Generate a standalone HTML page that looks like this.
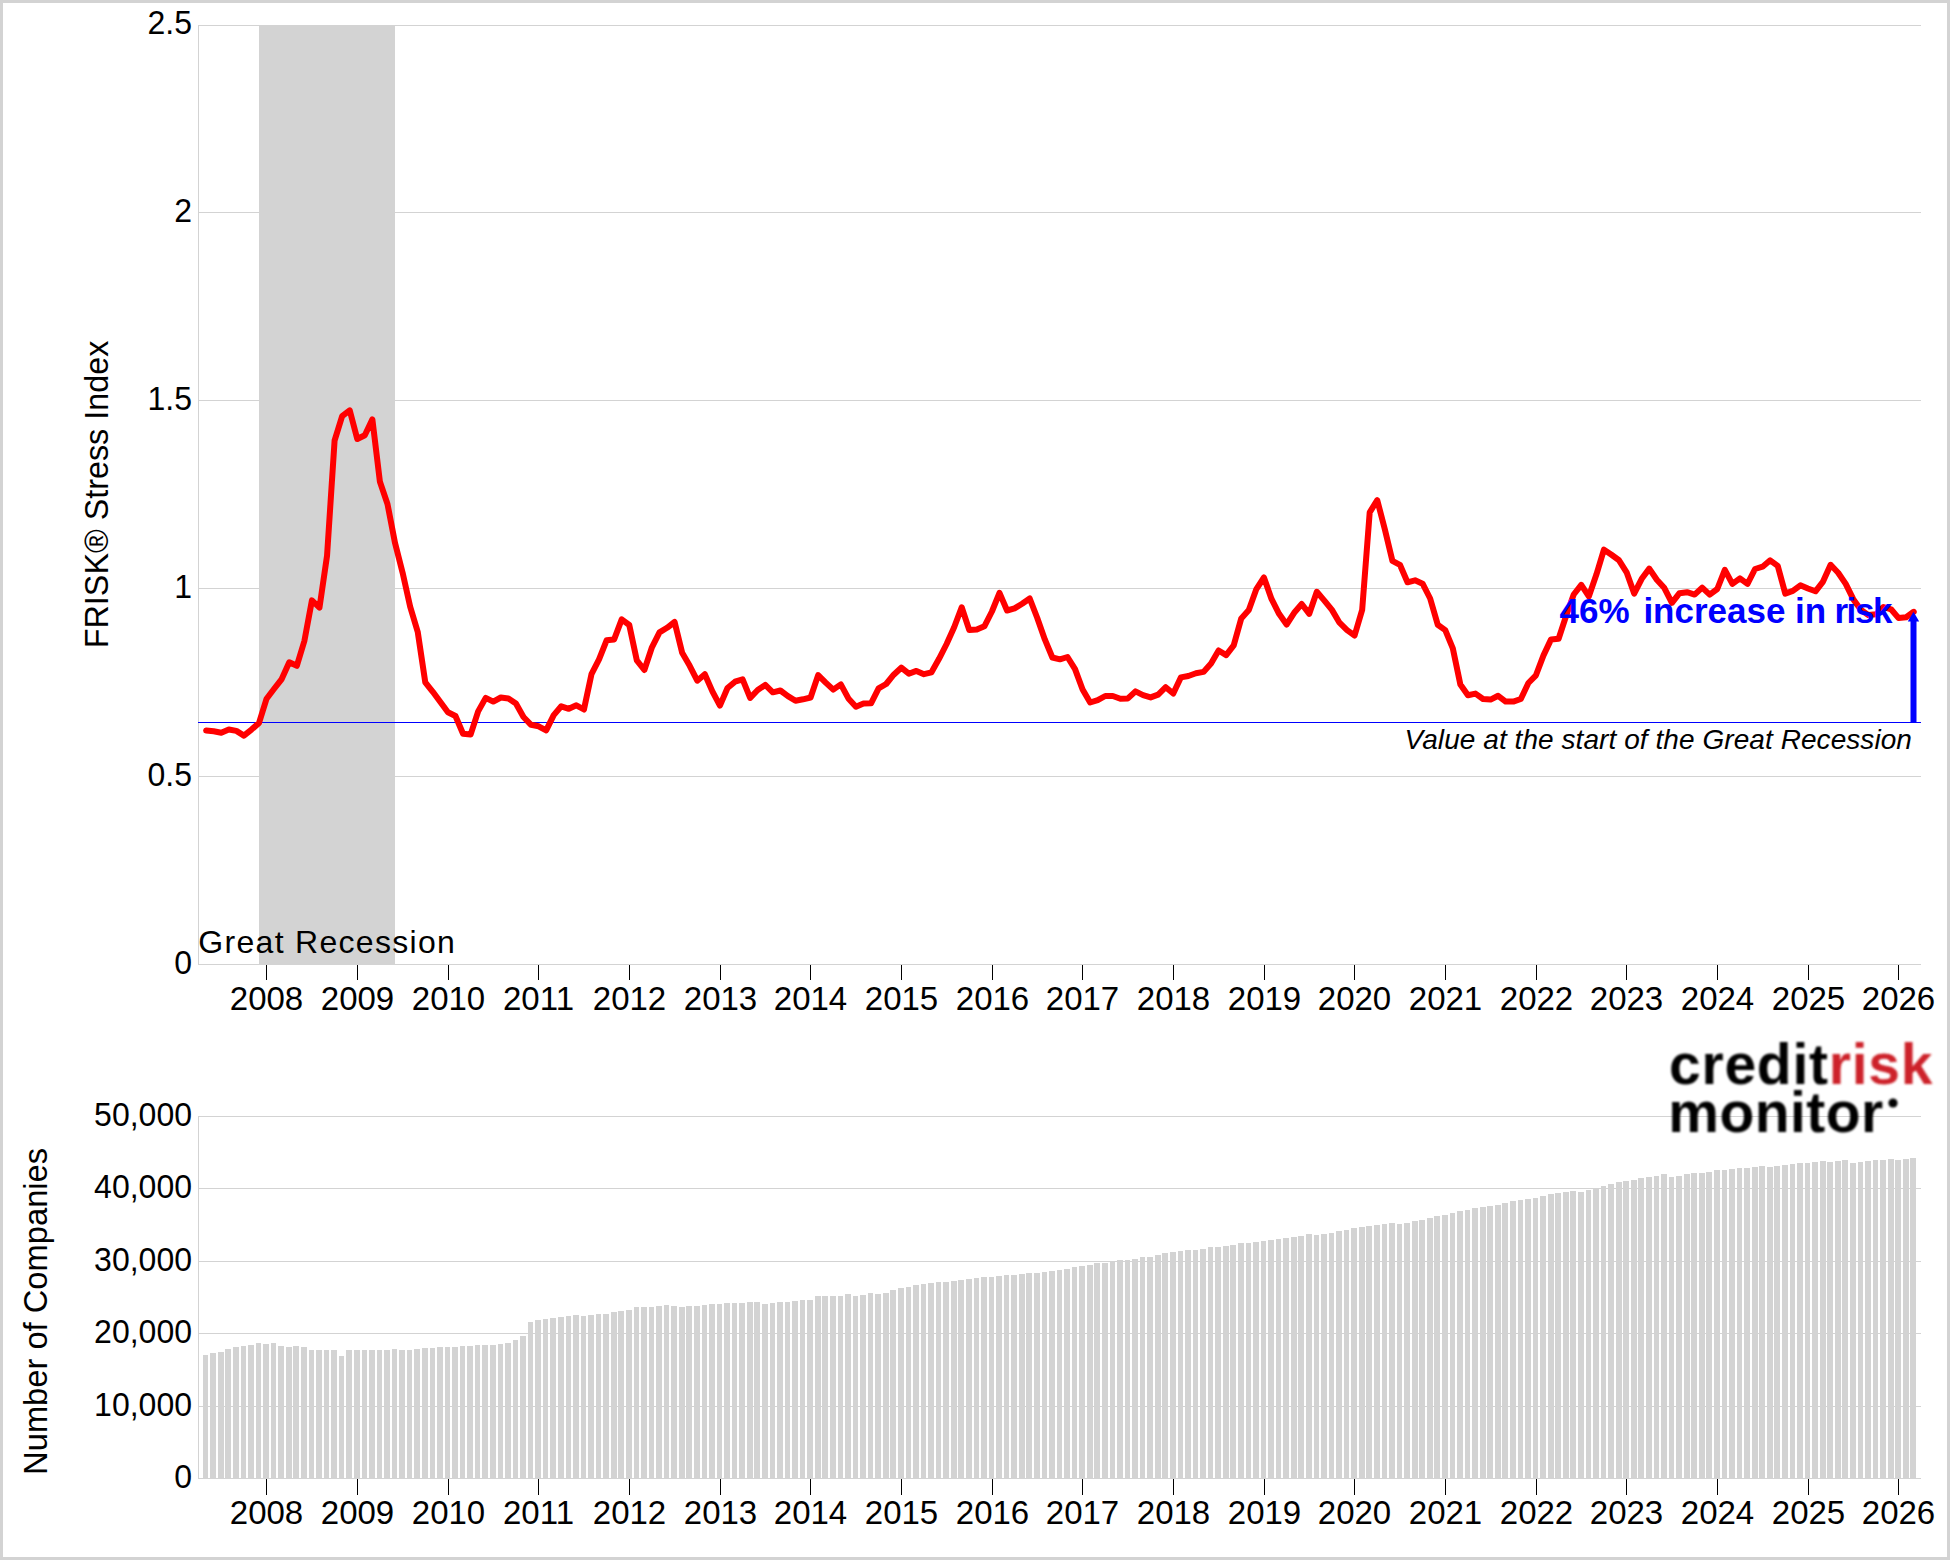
<!DOCTYPE html>
<html><head><meta charset="utf-8"><title>FRISK Stress Index</title><style>
html,body{margin:0;padding:0;background:#fff;}
body{width:1950px;height:1560px;overflow:hidden;}
svg{display:block;}
text{font-family:"Liberation Sans", Arial, sans-serif;fill:#000;}
</style></head><body>
<svg width="1950" height="1560" viewBox="0 0 1950 1560">
<rect x="0" y="0" width="1950" height="1560" fill="#d3d3d3"/>
<rect x="3" y="3" width="1944" height="1554" fill="#fff"/>
<g shape-rendering="crispEdges">
<rect x="198" y="212" width="1723" height="1" fill="#d3d3d3"/>
<rect x="198" y="400" width="1723" height="1" fill="#d3d3d3"/>
<rect x="198" y="588" width="1723" height="1" fill="#d3d3d3"/>
<rect x="198" y="776" width="1723" height="1" fill="#d3d3d3"/>
<rect x="198" y="25" width="1723" height="1" fill="#d3d3d3"/>
<rect x="198" y="25" width="1" height="940" fill="#d3d3d3"/>
<rect x="198" y="964" width="1723" height="1" fill="#d3d3d3"/>
<rect x="259" y="25" width="136" height="939" fill="#d3d3d3"/>
<rect x="198" y="722" width="1723" height="1" fill="#0000ff"/>
<rect x="266" y="965" width="1" height="15" fill="#000"/>
<rect x="266" y="1479" width="1" height="16" fill="#000"/>
<rect x="357" y="965" width="1" height="15" fill="#000"/>
<rect x="357" y="1479" width="1" height="16" fill="#000"/>
<rect x="448" y="965" width="1" height="15" fill="#000"/>
<rect x="448" y="1479" width="1" height="16" fill="#000"/>
<rect x="538" y="965" width="1" height="15" fill="#000"/>
<rect x="538" y="1479" width="1" height="16" fill="#000"/>
<rect x="629" y="965" width="1" height="15" fill="#000"/>
<rect x="629" y="1479" width="1" height="16" fill="#000"/>
<rect x="720" y="965" width="1" height="15" fill="#000"/>
<rect x="720" y="1479" width="1" height="16" fill="#000"/>
<rect x="810" y="965" width="1" height="15" fill="#000"/>
<rect x="810" y="1479" width="1" height="16" fill="#000"/>
<rect x="901" y="965" width="1" height="15" fill="#000"/>
<rect x="901" y="1479" width="1" height="16" fill="#000"/>
<rect x="992" y="965" width="1" height="15" fill="#000"/>
<rect x="992" y="1479" width="1" height="16" fill="#000"/>
<rect x="1082" y="965" width="1" height="15" fill="#000"/>
<rect x="1082" y="1479" width="1" height="16" fill="#000"/>
<rect x="1173" y="965" width="1" height="15" fill="#000"/>
<rect x="1173" y="1479" width="1" height="16" fill="#000"/>
<rect x="1264" y="965" width="1" height="15" fill="#000"/>
<rect x="1264" y="1479" width="1" height="16" fill="#000"/>
<rect x="1354" y="965" width="1" height="15" fill="#000"/>
<rect x="1354" y="1479" width="1" height="16" fill="#000"/>
<rect x="1445" y="965" width="1" height="15" fill="#000"/>
<rect x="1445" y="1479" width="1" height="16" fill="#000"/>
<rect x="1536" y="965" width="1" height="15" fill="#000"/>
<rect x="1536" y="1479" width="1" height="16" fill="#000"/>
<rect x="1626" y="965" width="1" height="15" fill="#000"/>
<rect x="1626" y="1479" width="1" height="16" fill="#000"/>
<rect x="1717" y="965" width="1" height="15" fill="#000"/>
<rect x="1717" y="1479" width="1" height="16" fill="#000"/>
<rect x="1808" y="965" width="1" height="15" fill="#000"/>
<rect x="1808" y="1479" width="1" height="16" fill="#000"/>
<rect x="1898" y="965" width="1" height="15" fill="#000"/>
<rect x="1898" y="1479" width="1" height="16" fill="#000"/>
</g>
<polyline points="206.15,730.4 213.71,731.3 221.26,732.7 228.82,729.5 236.37,730.9 243.93,735.6 251.48,729.6 259.04,722.9 266.59,698.7 274.15,688.8 281.71,679.1 289.26,662.3 296.82,665.8 304.37,641.0 311.93,600.4 319.48,607.6 327.04,555.8 334.60,440.5 342.15,416.2 349.71,410.3 357.26,439.0 364.82,435.2 372.37,419.4 379.93,481.8 387.48,504.0 395.04,543.1 402.60,572.7 410.15,606.6 417.71,631.8 425.26,682.3 432.82,691.8 440.37,702.1 447.93,712.3 455.48,716.0 463.04,733.7 470.60,734.6 478.15,711.4 485.71,697.9 493.26,701.6 500.82,697.5 508.37,698.4 515.93,703.5 523.49,717.0 531.04,724.8 538.60,726.3 546.15,730.4 553.71,715.1 561.26,706.3 568.82,708.8 576.37,705.3 583.93,709.5 591.49,674.2 599.04,659.4 606.60,640.3 614.15,639.4 621.71,619.4 629.26,625.0 636.82,660.3 644.37,670.0 651.93,647.3 659.49,632.4 667.04,627.8 674.60,622.0 682.15,652.8 689.71,665.8 697.26,680.7 704.82,674.2 712.38,691.4 719.93,705.6 727.49,688.0 735.04,681.7 742.60,679.3 750.15,697.9 757.71,690.0 765.26,684.9 772.82,692.3 780.38,690.5 787.93,696.1 795.49,700.7 803.04,699.3 810.60,697.5 818.15,675.1 825.71,682.6 833.26,689.6 840.82,684.4 848.38,698.4 855.93,706.7 863.49,703.5 871.04,703.3 878.60,688.4 886.15,684.0 893.71,674.7 901.27,667.7 908.82,673.7 916.38,670.9 923.93,674.2 931.49,672.3 939.04,658.8 946.60,644.0 954.15,627.3 961.71,607.3 969.27,630.1 976.82,629.6 984.38,626.3 991.93,611.5 999.49,592.9 1007.04,610.5 1014.60,608.4 1022.15,603.8 1029.71,598.5 1037.27,618.0 1044.82,639.4 1052.38,657.5 1059.93,659.3 1067.49,657.0 1075.04,669.1 1082.60,689.5 1090.16,702.5 1097.71,700.2 1105.27,696.0 1112.82,696.0 1120.38,698.8 1127.93,698.4 1135.49,691.4 1143.04,695.1 1150.60,697.4 1158.16,694.6 1165.71,687.2 1173.27,693.5 1180.82,677.4 1188.38,676.0 1195.93,673.3 1203.49,671.9 1211.04,663.5 1218.60,650.5 1226.16,655.1 1233.71,645.4 1241.27,618.4 1248.82,610.1 1256.38,589.1 1263.93,577.5 1271.49,598.9 1279.05,613.8 1286.60,624.5 1294.16,612.8 1301.71,604.0 1309.27,613.8 1316.82,591.8 1324.38,600.6 1331.93,609.9 1339.49,622.7 1347.05,630.1 1354.60,635.5 1362.16,609.9 1369.71,512.3 1377.27,500.2 1384.82,529.2 1392.38,560.8 1399.93,564.8 1407.49,582.3 1415.05,580.3 1422.60,583.7 1430.16,598.5 1437.71,624.7 1445.27,630.1 1452.82,648.3 1460.38,684.6 1467.94,695.3 1475.49,693.6 1483.05,699.0 1490.60,699.6 1498.16,695.8 1505.71,701.6 1513.27,701.6 1520.82,699.0 1528.38,683.0 1535.94,675.3 1543.49,655.4 1551.05,639.4 1558.60,638.7 1566.16,615.7 1573.71,594.5 1581.27,584.9 1588.82,596.4 1596.38,574.6 1603.94,549.6 1611.49,554.8 1619.05,560.3 1626.60,572.3 1634.16,593.6 1641.71,578.8 1649.27,568.6 1656.83,579.7 1664.38,588.1 1671.94,602.9 1679.49,593.2 1687.05,592.2 1694.60,594.6 1702.16,587.6 1709.71,594.6 1717.27,589.0 1724.83,569.9 1732.38,583.9 1739.94,578.3 1747.49,583.9 1755.05,569.0 1762.60,566.7 1770.16,560.3 1777.71,565.8 1785.27,593.6 1792.83,590.9 1800.38,585.3 1807.94,588.5 1815.49,591.3 1823.05,581.6 1830.60,564.8 1838.16,572.7 1845.72,583.9 1853.27,599.2 1860.83,609.8 1868.38,615.1 1875.94,614.3 1883.49,607.0 1891.05,609.3 1898.60,618.1 1906.16,617.3 1913.72,611.8" fill="none" stroke="#ff0000" stroke-width="6" stroke-linejoin="round" stroke-linecap="round"/>
<rect x="1910.5" y="621" width="6" height="101.5" fill="#0000ff"/>
<polygon points="1907.8,621.6 1919.2,621.6 1913.5,611.8" fill="#0000ff"/>
<text y="622.8" font-size="35" font-weight="bold" fill="#0000ff" style="fill:#0000ff"><tspan x="1559.6">46%</tspan> <tspan x="1643.4">increase</tspan> <tspan x="1795">in</tspan> <tspan x="1834.4" textLength="58" lengthAdjust="spacing">risk</tspan></text>
<text x="1404.5" y="748.8" font-size="28" font-style="italic" textLength="507.4" lengthAdjust="spacing">Value at the start of the Great Recession</text>
<text x="198.3" y="952.8" font-size="32" textLength="256.5" lengthAdjust="spacing">Great Recession</text>
<text x="192" y="34.3" font-size="33" text-anchor="end" textLength="44.48" lengthAdjust="spacingAndGlyphs">2.5</text>
<text x="192" y="222.3" font-size="33" text-anchor="end" textLength="17.80" lengthAdjust="spacingAndGlyphs">2</text>
<text x="192" y="410.3" font-size="33" text-anchor="end" textLength="44.48" lengthAdjust="spacingAndGlyphs">1.5</text>
<text x="192" y="598.3" font-size="33" text-anchor="end" textLength="17.80" lengthAdjust="spacingAndGlyphs">1</text>
<text x="192" y="786.3" font-size="33" text-anchor="end" textLength="44.48" lengthAdjust="spacingAndGlyphs">0.5</text>
<text x="192" y="974.3" font-size="33" text-anchor="end" textLength="17.80" lengthAdjust="spacingAndGlyphs">0</text>
<text x="266.5" y="1009.6" font-size="33" text-anchor="middle">2008</text>
<text x="266.5" y="1524.2" font-size="33" text-anchor="middle">2008</text>
<text x="357.5" y="1009.6" font-size="33" text-anchor="middle">2009</text>
<text x="357.5" y="1524.2" font-size="33" text-anchor="middle">2009</text>
<text x="448.5" y="1009.6" font-size="33" text-anchor="middle">2010</text>
<text x="448.5" y="1524.2" font-size="33" text-anchor="middle">2010</text>
<text x="538.5" y="1009.6" font-size="33" text-anchor="middle">2011</text>
<text x="538.5" y="1524.2" font-size="33" text-anchor="middle">2011</text>
<text x="629.5" y="1009.6" font-size="33" text-anchor="middle">2012</text>
<text x="629.5" y="1524.2" font-size="33" text-anchor="middle">2012</text>
<text x="720.5" y="1009.6" font-size="33" text-anchor="middle">2013</text>
<text x="720.5" y="1524.2" font-size="33" text-anchor="middle">2013</text>
<text x="810.5" y="1009.6" font-size="33" text-anchor="middle">2014</text>
<text x="810.5" y="1524.2" font-size="33" text-anchor="middle">2014</text>
<text x="901.5" y="1009.6" font-size="33" text-anchor="middle">2015</text>
<text x="901.5" y="1524.2" font-size="33" text-anchor="middle">2015</text>
<text x="992.5" y="1009.6" font-size="33" text-anchor="middle">2016</text>
<text x="992.5" y="1524.2" font-size="33" text-anchor="middle">2016</text>
<text x="1082.5" y="1009.6" font-size="33" text-anchor="middle">2017</text>
<text x="1082.5" y="1524.2" font-size="33" text-anchor="middle">2017</text>
<text x="1173.5" y="1009.6" font-size="33" text-anchor="middle">2018</text>
<text x="1173.5" y="1524.2" font-size="33" text-anchor="middle">2018</text>
<text x="1264.5" y="1009.6" font-size="33" text-anchor="middle">2019</text>
<text x="1264.5" y="1524.2" font-size="33" text-anchor="middle">2019</text>
<text x="1354.5" y="1009.6" font-size="33" text-anchor="middle">2020</text>
<text x="1354.5" y="1524.2" font-size="33" text-anchor="middle">2020</text>
<text x="1445.5" y="1009.6" font-size="33" text-anchor="middle">2021</text>
<text x="1445.5" y="1524.2" font-size="33" text-anchor="middle">2021</text>
<text x="1536.5" y="1009.6" font-size="33" text-anchor="middle">2022</text>
<text x="1536.5" y="1524.2" font-size="33" text-anchor="middle">2022</text>
<text x="1626.5" y="1009.6" font-size="33" text-anchor="middle">2023</text>
<text x="1626.5" y="1524.2" font-size="33" text-anchor="middle">2023</text>
<text x="1717.5" y="1009.6" font-size="33" text-anchor="middle">2024</text>
<text x="1717.5" y="1524.2" font-size="33" text-anchor="middle">2024</text>
<text x="1808.5" y="1009.6" font-size="33" text-anchor="middle">2025</text>
<text x="1808.5" y="1524.2" font-size="33" text-anchor="middle">2025</text>
<text x="1898.5" y="1009.6" font-size="33" text-anchor="middle">2026</text>
<text x="1898.5" y="1524.2" font-size="33" text-anchor="middle">2026</text>
<text transform="translate(108.2,648.2) rotate(-90)" font-size="33" textLength="307.5" lengthAdjust="spacingAndGlyphs">FRISK® Stress Index</text>
<text transform="translate(47,1474.9) rotate(-90)" font-size="33" textLength="327" lengthAdjust="spacingAndGlyphs">Number of Companies</text>
<g shape-rendering="crispEdges">
<rect x="198" y="1116" width="1723" height="1" fill="#d3d3d3"/>
<rect x="198" y="1188" width="1723" height="1" fill="#d3d3d3"/>
<rect x="198" y="1261" width="1723" height="1" fill="#d3d3d3"/>
<rect x="198" y="1333" width="1723" height="1" fill="#d3d3d3"/>
<rect x="198" y="1406" width="1723" height="1" fill="#d3d3d3"/>
<rect x="198" y="1116" width="1" height="363" fill="#d3d3d3"/>
<rect x="198" y="1478" width="1723" height="1" fill="#d3d3d3"/>
<path d="M203 1355h5v124h-5zM210 1353h6v126h-6zM218 1352h6v127h-6zM225 1349h6v130h-6zM233 1347h6v132h-6zM241 1346h5v133h-5zM248 1345h6v134h-6zM256 1343h5v136h-5zM263 1344h6v135h-6zM271 1343h5v136h-5zM278 1346h6v133h-6zM286 1347h6v132h-6zM293 1346h6v133h-6zM301 1347h6v132h-6zM309 1350h5v129h-5zM316 1350h6v129h-6zM324 1350h5v129h-5zM331 1350h6v129h-6zM339 1356h5v123h-5zM346 1350h6v129h-6zM354 1350h6v129h-6zM362 1350h5v129h-5zM369 1350h6v129h-6zM377 1350h5v129h-5zM384 1350h6v129h-6zM392 1349h5v130h-5zM399 1350h6v129h-6zM407 1350h5v129h-5zM414 1349h6v130h-6zM422 1348h6v131h-6zM430 1348h5v131h-5zM437 1347h6v132h-6zM445 1347h5v132h-5zM452 1347h6v132h-6zM460 1346h5v133h-5zM467 1346h6v133h-6zM475 1345h5v134h-5zM482 1345h6v134h-6zM490 1345h6v134h-6zM498 1344h5v135h-5zM505 1343h6v136h-6zM513 1340h5v139h-5zM520 1336h6v143h-6zM528 1322h5v157h-5zM535 1320h6v159h-6zM543 1319h5v160h-5zM550 1318h6v161h-6zM558 1317h6v162h-6zM566 1316h5v163h-5zM573 1315h6v164h-6zM581 1316h5v163h-5zM588 1315h6v164h-6zM596 1314h5v165h-5zM603 1314h6v165h-6zM611 1312h6v167h-6zM618 1311h6v168h-6zM626 1310h6v169h-6zM634 1307h5v172h-5zM641 1307h6v172h-6zM649 1307h5v172h-5zM656 1306h6v173h-6zM664 1305h5v174h-5zM671 1306h6v173h-6zM679 1307h6v172h-6zM686 1306h6v173h-6zM694 1306h6v173h-6zM702 1305h5v174h-5zM709 1304h6v175h-6zM717 1304h5v175h-5zM724 1303h6v176h-6zM732 1303h5v176h-5zM739 1303h6v176h-6zM747 1302h6v177h-6zM754 1302h6v177h-6zM762 1304h6v175h-6zM770 1303h5v176h-5zM777 1302h6v177h-6zM785 1302h5v177h-5zM792 1301h6v178h-6zM800 1300h5v179h-5zM807 1300h6v179h-6zM815 1296h6v183h-6zM822 1296h6v183h-6zM830 1296h6v183h-6zM838 1296h5v183h-5zM845 1294h6v185h-6zM853 1296h5v183h-5zM860 1295h6v184h-6zM868 1293h5v186h-5zM875 1294h6v185h-6zM883 1293h6v186h-6zM890 1290h6v189h-6zM898 1288h6v191h-6zM906 1287h5v192h-5zM913 1285h6v194h-6zM921 1284h5v195h-5zM928 1283h6v196h-6zM936 1282h5v197h-5zM943 1282h6v197h-6zM951 1281h6v198h-6zM958 1280h6v199h-6zM966 1279h6v200h-6zM974 1278h5v201h-5zM981 1277h6v202h-6zM989 1277h5v202h-5zM996 1276h6v203h-6zM1004 1275h5v204h-5zM1011 1275h6v204h-6zM1019 1274h6v205h-6zM1026 1273h6v206h-6zM1034 1273h6v206h-6zM1042 1272h5v207h-5zM1049 1271h6v208h-6zM1057 1270h5v209h-5zM1064 1269h6v210h-6zM1072 1267h5v212h-5zM1079 1266h6v213h-6zM1087 1265h6v214h-6zM1094 1263h6v216h-6zM1102 1263h6v216h-6zM1110 1261h5v218h-5zM1117 1260h6v219h-6zM1125 1260h5v219h-5zM1132 1259h6v220h-6zM1140 1257h5v222h-5zM1147 1257h6v222h-6zM1155 1255h6v224h-6zM1162 1253h6v226h-6zM1170 1252h6v227h-6zM1178 1251h5v228h-5zM1185 1250h6v229h-6zM1193 1250h5v229h-5zM1200 1249h6v230h-6zM1208 1247h5v232h-5zM1215 1247h6v232h-6zM1223 1246h6v233h-6zM1230 1245h6v234h-6zM1238 1243h6v236h-6zM1246 1243h5v236h-5zM1253 1242h6v237h-6zM1261 1241h5v238h-5zM1268 1240h6v239h-6zM1276 1239h5v240h-5zM1283 1238h6v241h-6zM1291 1237h6v242h-6zM1298 1236h6v243h-6zM1306 1234h6v245h-6zM1314 1235h5v244h-5zM1321 1234h6v245h-6zM1329 1233h5v246h-5zM1336 1231h6v248h-6zM1344 1230h5v249h-5zM1351 1228h6v251h-6zM1359 1227h6v252h-6zM1366 1226h6v253h-6zM1374 1225h6v254h-6zM1382 1224h5v255h-5zM1389 1223h6v256h-6zM1397 1224h5v255h-5zM1404 1223h6v256h-6zM1412 1221h6v258h-6zM1419 1220h6v259h-6zM1427 1218h6v261h-6zM1434 1216h6v263h-6zM1442 1215h6v264h-6zM1450 1213h5v266h-5zM1457 1211h6v268h-6zM1465 1210h5v269h-5zM1472 1208h6v271h-6zM1480 1207h6v272h-6zM1487 1206h6v273h-6zM1495 1205h6v274h-6zM1502 1203h6v276h-6zM1510 1201h6v278h-6zM1518 1200h5v279h-5zM1525 1199h6v280h-6zM1533 1198h5v281h-5zM1540 1196h6v283h-6zM1548 1194h6v285h-6zM1555 1193h6v286h-6zM1563 1192h6v287h-6zM1570 1191h6v288h-6zM1578 1192h6v287h-6zM1586 1190h5v289h-5zM1593 1188h6v291h-6zM1601 1186h5v293h-5zM1608 1184h6v295h-6zM1616 1182h6v297h-6zM1623 1181h6v298h-6zM1631 1180h6v299h-6zM1638 1178h6v301h-6zM1646 1177h6v302h-6zM1654 1176h5v303h-5zM1661 1174h6v305h-6zM1669 1177h5v302h-5zM1676 1176h6v303h-6zM1684 1174h6v305h-6zM1691 1173h6v306h-6zM1699 1173h6v306h-6zM1706 1172h6v307h-6zM1714 1170h6v309h-6zM1722 1170h5v309h-5zM1729 1169h6v310h-6zM1737 1168h5v311h-5zM1744 1168h6v311h-6zM1752 1167h6v312h-6zM1759 1166h6v313h-6zM1767 1167h6v312h-6zM1774 1166h6v313h-6zM1782 1165h6v314h-6zM1790 1164h5v315h-5zM1797 1163h6v316h-6zM1805 1163h5v316h-5zM1812 1162h6v317h-6zM1820 1161h6v318h-6zM1827 1162h6v317h-6zM1835 1161h6v318h-6zM1842 1160h6v319h-6zM1850 1163h6v316h-6zM1858 1162h5v317h-5zM1865 1161h6v318h-6zM1873 1160h5v319h-5zM1880 1160h6v319h-6zM1888 1159h6v320h-6zM1895 1160h6v319h-6zM1903 1159h6v320h-6zM1910 1158h6v321h-6z" fill="#d3d3d3"/>
</g>
<text x="192" y="1126.3" font-size="33" text-anchor="end" textLength="97.88" lengthAdjust="spacingAndGlyphs">50,000</text>
<text x="192" y="1198.3" font-size="33" text-anchor="end" textLength="97.88" lengthAdjust="spacingAndGlyphs">40,000</text>
<text x="192" y="1271.3" font-size="33" text-anchor="end" textLength="97.88" lengthAdjust="spacingAndGlyphs">30,000</text>
<text x="192" y="1343.3" font-size="33" text-anchor="end" textLength="97.88" lengthAdjust="spacingAndGlyphs">20,000</text>
<text x="192" y="1416.3" font-size="33" text-anchor="end" textLength="97.88" lengthAdjust="spacingAndGlyphs">10,000</text>
<text x="192" y="1488.3" font-size="33" text-anchor="end" textLength="17.80" lengthAdjust="spacingAndGlyphs">0</text>
<defs><filter id="soft" x="-5%" y="-5%" width="110%" height="110%"><feGaussianBlur stdDeviation="0.8"/></filter></defs>
<g filter="url(#soft)">
<text transform="translate(1669.0,1084) scale(1.0,1)" font-size="57" font-weight="bold" letter-spacing="0.75">credit<tspan fill="#cd2129" style="fill:#cd2129">risk</tspan></text>
<text transform="translate(1668.3,1131.5) scale(1.0,1)" font-size="57" font-weight="bold" letter-spacing="0.45">monitor</text>
<circle cx="1893" cy="1103" r="4.6" fill="#000"/>
</g>
</svg>
</body></html>
